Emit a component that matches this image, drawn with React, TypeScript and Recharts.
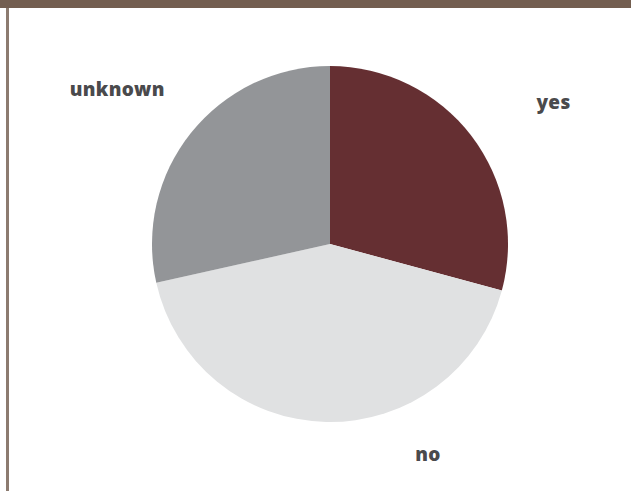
import { PieChart, Pie, Cell } from 'recharts'

const categories = ['yes', 'no', 'unknown']
const shares = [29.2, 42.3, 28.5]
const colors = ['#652f32', '#e0e1e2', '#939598']

// where each label sits around the pie (polar, degrees counter-clockwise from 3 o'clock)
const labelSpots: Record<string, { r: number; a: number }> = {
  yes: { r: 265, a: 32.5 },
  no: { r: 232, a: -65 },
  unknown: { r: 263, a: 144 },
}

const data = categories.map((name, i) => ({ name, value: shares[i] }))

const RAD = Math.PI / 180

function renderLabel(props: any) {
  const { cx, cy, name } = props
  const spot = labelSpots[name]
  const x = cx + spot.r * Math.cos(spot.a * RAD)
  const y = cy - spot.r * Math.sin(spot.a * RAD)
  return (
    <text
      x={x}
      y={y}
      textAnchor="middle"
      dominantBaseline="central"
      fill="#4a4a4c"
      fontSize={19}
      fontWeight={800}
      letterSpacing={0.3}
      fontFamily="'Open Sans', Lato, sans-serif"
    >
      {name}
    </text>
  )
}

export default function App() {
  return (
    <div style={{ position: 'fixed', left: 0, top: 0, width: 631, height: 491, background: '#fff', overflow: 'hidden' }}>
      <div style={{ position: 'absolute', left: 0, top: 0 }}>
        <PieChart width={631} height={491} margin={{ top: 0, right: 0, bottom: 0, left: 0 }}>
          <Pie
            data={data}
            dataKey="value"
            nameKey="name"
            cx={330}
            cy={244}
            outerRadius={178}
            startAngle={90}
            endAngle={-270}
            stroke="none"
            label={renderLabel}
            labelLine={false}
            isAnimationActive={false}
          >
            {data.map((d, i) => (
              <Cell key={d.name} fill={colors[i]} />
            ))}
          </Pie>
        </PieChart>
      </div>
      <div style={{ position: 'absolute', left: 0, top: 0, width: 631, height: 8, background: '#735e50', zIndex: 2 }} />
      <div style={{ position: 'absolute', left: 6, top: 8, width: 3, height: 483, background: '#8c7b70', zIndex: 2 }} />
    </div>
  )
}
